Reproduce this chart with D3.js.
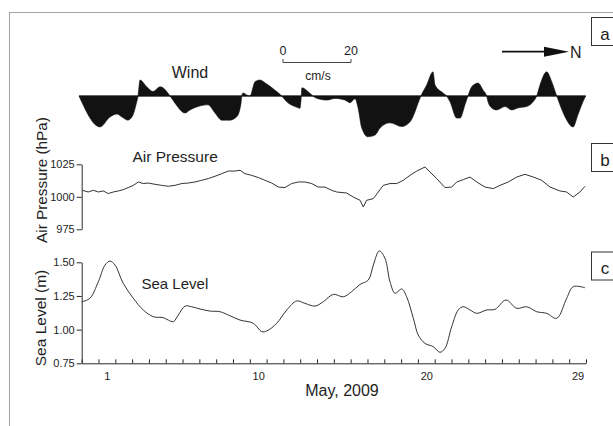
<!DOCTYPE html>
<html>
<head>
<meta charset="utf-8">
<script src="https://cdn.jsdelivr.net/npm/d3@7"></script>
<style>
  html, body { margin: 0; padding: 0; background: #fff; }
  text { font-family: "Liberation Sans", Arial, sans-serif; fill: #1e1e1e; }
</style>
</head>
<body>
<script>
// ---------- DATA ----------
// Days of May 2009 (1 = May 1)
const dayTicks = [1, 10, 20, 29];

// Wind component perpendicular to N axis (cm/s, positive = below baseline)
const windDays = [-0.66, 0.59, 1.18, 1.60, 1.90, 2.25, 2.55, 2.73, 2.85, 2.97, 3.37, 3.74, 4.16, 4.34, 4.75,
  5.05, 5.65, 5.94, 6.42, 7.01, 7.43, 7.83, 8.32, 8.72, 8.98, 9.02, 9.10, 9.32, 9.51, 9.81, 10.11, 10.40,
  11.10, 11.40, 11.70, 12.19, 12.49, 12.55, 12.60, 12.96, 13.26, 13.44, 14.09, 14.57, 15.16, 15.46, 15.76,
  15.94, 16.16, 16.53, 16.95, 17.25, 17.84, 18.54, 19.03, 19.33, 19.51, 19.68, 20.02, 20.40, 20.52, 20.99,
  21.21, 21.41, 21.81, 22.01, 22.30, 22.48, 22.70, 23.08, 23.37, 23.59, 23.67, 23.89, 24.19, 24.68, 25.08,
  25.45, 25.97, 26.35, 26.57, 26.76, 27.16, 27.46, 27.76, 27.95, 28.25, 28.73, 29.02, 29.32, 29.48];
const windValues = [0, 9.1, 6.2, 5.3, 6.2, 7.1, 5.6, 2.6, 0, -4.7, -2.7, -1.3, -2.7, -2.4, 0,
  2.1, 5.0, 4.1, 3.1, 2.6, 5.0, 7.1, 7.1, 6.1, 2.1, 0, -0.9, -0.3, 0, -4.2, -4.7, -3.9,
  -1.3, 0, 1.7, 3.1, 3.6, 1.0, -2.4, -1.3, 0, 0.6, 1.2, 0.7, 1.2, 2.0, 0.8,
  3.5, 9.4, 12.0, 11.5, 9.4, 7.9, 9.0, 7.6, 4.6, 2.1, 0, -3.2, -7.1, -3.2, -0.9,
  0, 1.7, 6.5, 6.5, 2.6, 0, -2.7, -3.8, -1.8, 0, 1.7, 3.5, 4.1, 3.1, 4.1,
  3.5, 3.1, 1.7, 0, -3.2, -7.1, -4.2, 0, 2.6, 6.1, 9.1, 5.5, 1.7, 0];

// Air pressure (hPa)
const pressureDays = [-0.46, -0.11, 0.19, 0.49, 0.78, 1.08, 1.38, 1.68, 1.97, 2.27, 2.57, 2.87, 3.16, 3.46,
  3.86, 4.26, 4.65, 5.05, 5.45, 5.84, 6.24, 6.64, 7.03, 7.43, 7.83, 8.22, 8.62, 8.92, 9.21, 9.61, 10.01,
  10.40, 10.80, 11.20, 11.59, 11.99, 12.39, 12.78, 13.18, 13.57, 13.97, 14.37, 14.67, 15.26, 15.66, 16.06,
  16.25, 16.45, 16.85, 17.44, 17.84, 18.24, 18.63, 19.03, 19.43, 19.92, 20.22, 20.62, 21.11, 21.51, 21.81,
  22.20, 22.60, 23.00, 23.49, 23.99, 24.38, 24.88, 25.38, 25.87, 26.37, 26.86, 27.36, 27.95, 28.35, 28.74,
  29.14, 29.44];
const pressureValues = [1005.0, 1003.7, 1005.0, 1003.7, 1004.5, 1002.5, 1003.7, 1004.5, 1005.5, 1007.1,
  1008.8, 1011.4, 1010.2, 1010.6, 1009.6, 1008.8, 1008.1, 1008.8, 1010.2, 1010.6, 1011.4, 1012.7, 1014.0,
  1015.8, 1017.8, 1019.8, 1019.8, 1020.4, 1017.8, 1016.5, 1014.8, 1012.7, 1010.6, 1007.5, 1007.1, 1010.2,
  1011.4, 1011.4, 1010.2, 1007.5, 1007.5, 1005.0, 1003.7, 1002.9, 999.8, 997.3, 992.2, 997.3, 998.6,
  1008.8, 1010.2, 1010.2, 1012.7, 1016.5, 1019.8, 1022.9, 1019.1, 1014.0, 1007.1, 1007.5, 1011.4, 1013.2,
  1015.2, 1011.4, 1007.5, 1006.3, 1008.8, 1011.4, 1015.2, 1017.3, 1015.2, 1012.7, 1007.5, 1004.5, 1003.7,
  999.8, 1003.7, 1008.1];
const pressureTicks = [975, 1000, 1025];

// Sea level (m)
const seaDays = [-0.5, -0.01, 0.49, 0.89, 1.18, 1.48, 1.97, 2.57, 3.16, 3.76, 4.35, 4.65, 4.95, 5.25, 5.65,
  6.04, 6.54, 7.13, 7.73, 8.32, 8.92, 9.71, 10.21, 10.51, 11.10, 11.70, 12.29, 12.78, 13.38, 13.87, 14.47,
  15.06, 15.56, 16.06, 16.55, 16.85, 17.20, 17.54, 17.84, 18.14, 18.54, 18.83, 19.23, 19.52, 19.92, 20.42,
  20.81, 21.11, 21.51, 21.90, 22.20, 22.60, 23.00, 23.59, 24.09, 24.74, 25.38, 25.97, 26.57, 27.16, 27.76,
  28.35, 28.74, 29.44];
const seaValues = [1.207, 1.233, 1.356, 1.480, 1.509, 1.480, 1.344, 1.233, 1.146, 1.096, 1.089, 1.071, 1.059,
  1.109, 1.175, 1.170, 1.153, 1.138, 1.133, 1.103, 1.071, 1.047, 0.985, 0.990, 1.047, 1.146, 1.213, 1.195,
  1.175, 1.207, 1.262, 1.244, 1.282, 1.336, 1.368, 1.480, 1.584, 1.530, 1.356, 1.270, 1.302, 1.244, 1.084,
  0.960, 0.898, 0.873, 0.832, 0.861, 1.022, 1.146, 1.170, 1.146, 1.121, 1.146, 1.151, 1.220, 1.158, 1.170,
  1.133, 1.121, 1.084, 1.233, 1.319, 1.311];
const seaTicks = [0.75, 1.00, 1.25, 1.50];

const panelLabels = ["a", "b", "c"];

// ---------- CHART ----------
const W = 613, H = 426;
const svg = d3.select("body").append("svg").attr("width", W).attr("height", H);

// outer frame (partly clipped)
svg.append("rect").attr("x", 9.5).attr("y", 12.5).attr("width", 640).attr("height", 440)
  .attr("fill", "none").attr("stroke", "#a0a0a0").attr("stroke-width", 1);

const x = d3.scaleLinear().domain([-0.5, 29.5]).range([81.7, 586]);
const yWind = d3.scaleLinear().domain([0, 20]).range([96, 164]);
const yP = d3.scaleLinear().domain([975, 1025]).range([229.3, 164.3]);
const yS = d3.scaleLinear().domain([0.75, 1.5]).range([363.3, 262.3]);

const ink = "#2a2a2a";

// --- Wind panel ---
const windData = windDays.map((d, i) => ({ day: d, v: windValues[i] }));
const windArea = d3.area().x(d => x(d.day)).y0(yWind(0)).y1(d => yWind(d.v)).curve(d3.curveMonotoneX);
svg.append("path").datum(windData).attr("d", windArea).attr("fill", "#121212").attr("stroke", "#121212").attr("stroke-width", 0.6);
svg.append("line").attr("x1", x(windDays[0])).attr("x2", x(windDays[windDays.length - 1]))
  .attr("y1", yWind(0)).attr("y2", yWind(0)).attr("stroke", "#111").attr("stroke-width", 1);

svg.append("text").attr("x", 190).attr("y", 77.5).attr("text-anchor", "middle").attr("font-size", 16).text("Wind");

// scale bar 0–20 cm/s
const xBar = d3.scaleLinear().domain([0, 20]).range([283, 283 + (yWind(20) - yWind(0))]);
svg.append("path").attr("d", `M${xBar(0)},59V62.5H${xBar(20)}V59`).attr("fill", "none").attr("stroke", "#444").attr("stroke-width", 1);
svg.append("text").attr("x", xBar(0)).attr("y", 55).attr("text-anchor", "middle").attr("font-size", 12.5).text("0");
svg.append("text").attr("x", xBar(20)).attr("y", 55).attr("text-anchor", "middle").attr("font-size", 12.5).text("20");
svg.append("text").attr("x", 318).attr("y", 79.5).attr("text-anchor", "middle").attr("font-size", 12).text("cm/s");

// North arrow
svg.append("line").attr("x1", 502).attr("x2", 548).attr("y1", 51.7).attr("y2", 51.7).attr("stroke", "#111").attr("stroke-width", 1.8);
svg.append("path").attr("d", "M544,46.8L569,51.7L544,56.8Z").attr("fill", "#111");
svg.append("text").attr("x", 570).attr("y", 58).attr("font-size", 16).text("N");

// --- Air pressure panel ---
const pData = pressureDays.map((d, i) => ({ day: d, v: pressureValues[i] }));
svg.append("path").datum(pData)
  .attr("d", d3.line().x(d => x(d.day)).y(d => yP(d.v)).curve(d3.curveLinear))
  .attr("fill", "none").attr("stroke", "#333").attr("stroke-width", 1);

const pAxis = svg.append("g").attr("transform", `translate(${x(-0.5)},0)`)
  .call(d3.axisLeft(yP).tickValues(pressureTicks).tickSize(5).tickSizeOuter(0).tickPadding(2).tickFormat(d3.format("d")));
pAxis.selectAll("text").attr("font-size", 11).style("font-family", '"Liberation Sans", Arial, sans-serif').attr("fill", "#1e1e1e");
pAxis.selectAll("path,line").attr("stroke", ink);

svg.append("text").attr("x", 132.5).attr("y", 161.5).attr("font-size", 15.5).text("Air Pressure");
svg.append("text").attr("transform", "translate(46.5,180) rotate(-90)").attr("text-anchor", "middle")
  .attr("font-size", 15.3).text("Air Pressure (hPa)");

// --- Sea level panel ---
const sData = seaDays.map((d, i) => ({ day: d, v: seaValues[i] }));
svg.append("path").datum(sData)
  .attr("d", d3.line().x(d => x(d.day)).y(d => yS(d.v)).curve(d3.curveCatmullRom.alpha(0.5)))
  .attr("fill", "none").attr("stroke", "#333").attr("stroke-width", 1);

const sAxis = svg.append("g").attr("transform", `translate(${x(-0.5)},0)`)
  .call(d3.axisLeft(yS).tickValues(seaTicks).tickSize(5).tickSizeOuter(0).tickPadding(2).tickFormat(d3.format(".2f")));
sAxis.selectAll("text").attr("font-size", 11).style("font-family", '"Liberation Sans", Arial, sans-serif').attr("fill", "#1e1e1e");
sAxis.selectAll("path,line").attr("stroke", ink);

svg.append("text").attr("x", 141.5).attr("y", 288.5).attr("font-size", 15).text("Sea Level");
svg.append("text").attr("transform", "translate(46,318) rotate(-90)").attr("text-anchor", "middle")
  .attr("font-size", 15.5).text("Sea Level (m)");

// bottom axis: day boundary ticks (inward) and day labels
const xAxisTicks = svg.append("g").attr("transform", `translate(0,${yS(0.75)})`)
  .call(d3.axisBottom(x).tickValues(d3.range(-0.5, 29.6, 1)).tickSizeInner(-4).tickSizeOuter(0).tickFormat(""));
xAxisTicks.selectAll("path,line").attr("stroke", ink);

const xAxisLabels = svg.append("g").attr("transform", `translate(0,${yS(0.75)})`)
  .call(d3.axisBottom(x).tickValues(dayTicks).tickSize(0).tickPadding(9).tickFormat(d3.format("d")));
xAxisLabels.select(".domain").remove();
xAxisLabels.selectAll("text").attr("font-size", 11).style("font-family", '"Liberation Sans", Arial, sans-serif').attr("fill", "#1e1e1e");

svg.append("text").attr("x", 342).attr("y", 395.5).attr("text-anchor", "middle").attr("font-size", 16).text("May, 2009");

// panel label boxes
const boxTops = [17.5, 143.5, 252];
const boxBase = [39.5, 165.5, 274];
panelLabels.forEach((lab, i) => {
  svg.append("rect").attr("x", 591.5).attr("y", boxTops[i]).attr("width", 30).attr("height", 28)
    .attr("fill", "#fff").attr("stroke", "#333").attr("stroke-width", 1);
  svg.append("text").attr("x", 605).attr("y", boxBase[i]).attr("text-anchor", "middle").attr("font-size", 17).text(lab);
});
</script>
</body>
</html>
